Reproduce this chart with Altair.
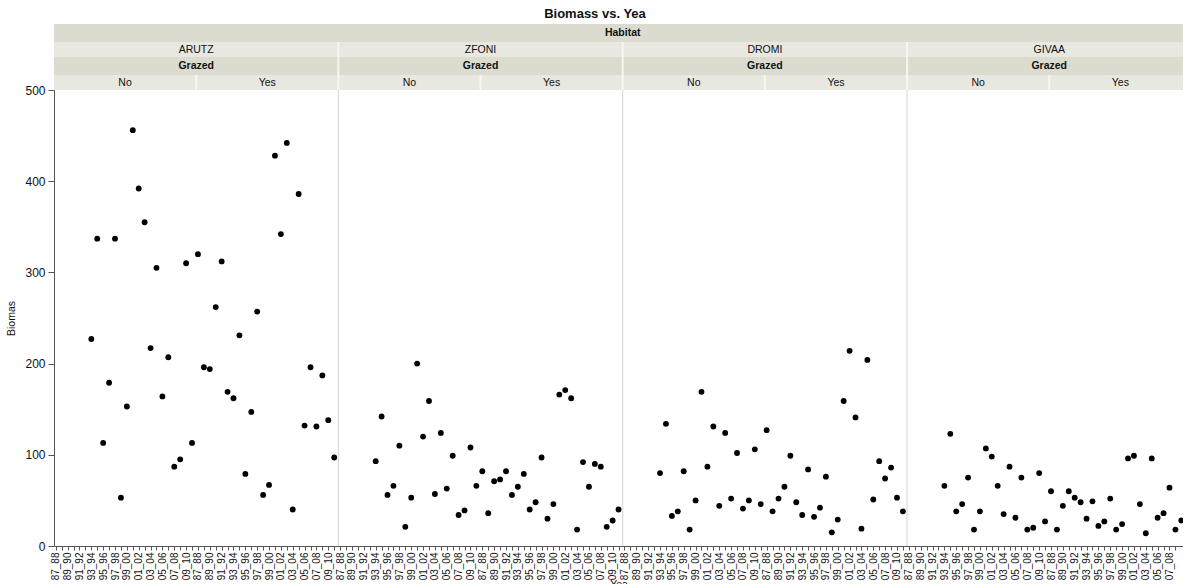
import json

import altair as alt
import pandas as pd

# Season labels on the x axis (one slot per season inside every panel)
YEARS = ["87_88", "88_89", "89_90", "90_91", "91_92", "92_93", "93_94", "94_95",
         "95_96", "96_97", "97_98", "98_99", "99_00", "00_01", "01_02", "02_03",
         "03_04", "04_05", "05_06", "06_07", "07_08", "08_09", "09_10", "10_11"]
HABITATS = ["ARUTZ", "ZFONI", "DROMI", "GIVAA"]
GRAZED = ["No", "Yes"]

# Biomass per season; ungrazed plots were only sampled from 93_94 on
ARUTZ_NO = [None] * 6 + [227, 337, 113, 179, 337, 53, 153, 456, 392, 355, 217, 305,
                         164, 207, 87, 95, 310, 113]
ARUTZ_YES = [320, 196, 194, 262, 312, 169, 162, 231, 79, 147, 257, 56, 67, 428, 342,
             442, 40, 386, 132, 196, 131, 187, 138, 97]
ZFONI_NO = [None] * 6 + [93, 142, 56, 66, 110, 21, 53, 200, 120, 159, 57, 124, 63, 99,
                         34, 39, 108, 66]
ZFONI_YES = [82, 36, 71, 73, 82, 56, 65, 79, 40, 48, 97, 30, 46, 166, 171, 162, 18, 92,
             65, 90, 87, 21, 28, 40]
DROMI_NO = [None] * 6 + [80, 134, 33, 38, 82, 18, 50, 169, 87, 131, 44, 124, 52, 102,
                         41, 50, 106, 46]
DROMI_YES = [127, 38, 52, 65, 99, 48, 34, 84, 32, 42, 76, 15, 29, 159, 214, 141, 19,
             204, 51, 93, 74, 86, 53, 38]
GIVAA_NO = [None] * 6 + [66, 123, 38, 46, 75, 18, 38, 107, 98, 66, 35, 87, 31, 75, 18,
                         20, 80, 27]
GIVAA_YES = [60, 18, 44, 60, 53, 48, 30, 49, 22, 27, 52, 18, 24, 96, 99, 46, 14, 96, 31,
             36, 64, 18, 28, 30]

SERIES = {
    ("ARUTZ", "No"): ARUTZ_NO, ("ARUTZ", "Yes"): ARUTZ_YES,
    ("ZFONI", "No"): ZFONI_NO, ("ZFONI", "Yes"): ZFONI_YES,
    ("DROMI", "No"): DROMI_NO, ("DROMI", "Yes"): DROMI_YES,
    ("GIVAA", "No"): GIVAA_NO, ("GIVAA", "Yes"): GIVAA_YES,
}

FONT = "Liberation Sans"
N = len(YEARS)                 # slots per panel
SLOT_POS = 0.3                 # where a season sits inside its slot
PX_PER_SLOT = 5.924
PLOT_W = 1129
PLOT_H = 456
VISIBLE = PLOT_W / PX_PER_SLOT  # the last panel runs past the right edge
HEAD_H = 66

DARK = "#dcdbcf"
LIGHT = "#e8e7e0"
GAP = "#f6f6f2"

# ---- long table of points -------------------------------------------------
rows = []
for h_i, hab in enumerate(HABITATS):
    for g_i, gr in enumerate(GRAZED):
        panel = h_i * len(GRAZED) + g_i
        for y_i, (yr, val) in enumerate(zip(YEARS, SERIES[(hab, gr)])):
            if val is None:
                continue
            rows.append({"Habitat": hab, "Grazed": gr, "Yea": yr, "Biomas": val,
                         "slot": panel * N + y_i + SLOT_POS})
points = pd.DataFrame(rows)

x_scale = alt.Scale(domain=[0, VISIBLE], nice=False, zero=False)

# ---- header strips (Habitat / names / Grazed / No-Yes) ----------------------
BANDS = [(0, 18), (18, 33), (33, 51), (51, 66)]
cells = []
span_all = len(HABITATS) * len(GRAZED) * N
cells.append({"x0": 0, "x1": span_all, "band": 0, "text": "Habitat", "bold": True, "fill": DARK})
hab_w = len(GRAZED) * N
for h_i, hab in enumerate(HABITATS):
    cells.append({"x0": h_i * hab_w, "x1": (h_i + 1) * hab_w, "band": 1, "text": hab,
                  "bold": False, "fill": LIGHT})
    cells.append({"x0": h_i * hab_w, "x1": (h_i + 1) * hab_w, "band": 2, "text": "Grazed",
                  "bold": True, "fill": DARK})
    for g_i, gr in enumerate(GRAZED):
        p = h_i * len(GRAZED) + g_i
        cells.append({"x0": p * N, "x1": (p + 1) * N, "band": 3, "text": gr,
                      "bold": False, "fill": LIGHT})
for c in cells:
    c["top"], c["bottom"] = BANDS[c["band"]]
    c["xc"] = (c["x0"] + c["x1"]) / 2
    c["yc"] = (c["top"] + c["bottom"]) / 2
cells = pd.DataFrame(cells)

seps = []
for h_i in range(1, len(HABITATS)):
    seps.append({"xb": h_i * hab_w, "y0": BANDS[1][0], "y1": BANDS[3][1]})
for h_i in range(len(HABITATS)):
    seps.append({"xb": h_i * hab_w + N, "y0": BANDS[3][0], "y1": BANDS[3][1]})
seps = pd.DataFrame(seps)

head_y = alt.Scale(domain=[0, HEAD_H], reverse=True, nice=False, zero=False)
hx = dict(scale=x_scale, axis=None)

head_base = alt.Chart(cells)
head_rects = head_base.mark_rect(clip=True).encode(
    x=alt.X("x0:Q", **hx), x2="x1:Q",
    y=alt.Y("top:Q", scale=head_y, axis=None), y2="bottom:Q",
    color=alt.Color("fill:N", scale=None),
)
head_seps = alt.Chart(seps).mark_rule(color=GAP, strokeWidth=2, clip=True).encode(
    x=alt.X("xb:Q", **hx), y=alt.Y("y0:Q", scale=head_y, axis=None), y2="y1:Q",
)
head_bold = head_base.transform_filter("datum.bold").mark_text(
    font=FONT, fontSize=10.5, fontWeight="bold", color="#111", baseline="middle", clip=True
).encode(x=alt.X("xc:Q", **hx), y=alt.Y("yc:Q", scale=head_y, axis=None), text="text:N")
head_plain = head_base.transform_filter("!datum.bold").mark_text(
    font=FONT, fontSize=10.5, color="#111", baseline="middle", clip=True
).encode(x=alt.X("xc:Q", **hx), y=alt.Y("yc:Q", scale=head_y, axis=None), text="text:N")

header = alt.layer(head_rects, head_seps, head_bold, head_plain).properties(
    width=PLOT_W, height=HEAD_H
)

# ---- scatter ---------------------------------------------------------------
tick_vals = [k + SLOT_POS for k in range(int(VISIBLE))]
year_arr = json.dumps(YEARS).replace('"', "'")
label_expr = (f"(floor(datum.value) % {N}) % 2 == 0 ? "
              f"{year_arr}[floor(datum.value) % {N}] : ''")

dividers = pd.DataFrame({"xb": [h * hab_w for h in range(1, len(HABITATS))]})
div_rules = alt.Chart(dividers).mark_rule(color="#d4d4d4", strokeWidth=1).encode(
    x=alt.X("xb:Q", scale=x_scale)
)

dots = alt.Chart(points).mark_circle(size=34, color="#000", opacity=1, clip=True).encode(
    x=alt.X("slot:Q", scale=x_scale, title="Yea",
            axis=alt.Axis(values=tick_vals, tickCount=1000, labelExpr=label_expr,
                          labelAngle=270, labelAlign="right", labelBaseline="middle",
                          labelFontSize=10, labelOverlap=False, labelFlush=False,
                          labelBound=False, tickSize=4, labelPadding=2,
                          titleBaseline="top", titleY=33)),
    y=alt.Y("Biomas:Q", scale=alt.Scale(domain=[0, 500], nice=False),
            axis=alt.Axis(values=[0, 100, 200, 300, 400, 500], tickSize=6,
                          labelFontSize=12, labelPadding=3, titlePadding=8,
                          grid=False)),
    tooltip=["Habitat", "Grazed", "Yea", "Biomas"],
)

scatter = alt.layer(div_rules, dots).properties(width=PLOT_W, height=PLOT_H)

chart = alt.vconcat(header, scatter, spacing=0, bounds="flush").properties(
    title=alt.TitleParams("Biomass vs. Yea", fontSize=13, fontWeight="bold",
                          font=FONT, color="#111", anchor="middle", offset=3),
    padding={"left": 6, "top": 8, "right": 0, "bottom": 0},
).configure_view(stroke=None).configure_axis(
    labelFont=FONT, titleFont=FONT, labelColor="#111", titleColor="#111",
    domainColor="#555", tickColor="#555", titleFontWeight="normal", titleFontSize=10.5,
    grid=False,
)

chart.save("out.html", embed_options={"renderer": "svg", "actions": False})
